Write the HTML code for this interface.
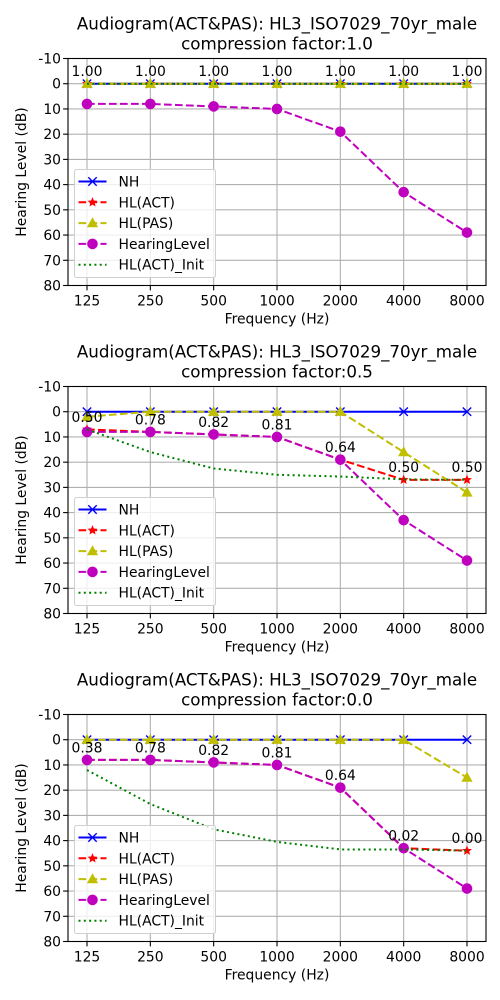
<!DOCTYPE html>
<html><head><meta charset="utf-8"><style>
html,body{margin:0;padding:0;background:#fff;}
svg{display:block;font-family:"DejaVu Sans","Liberation Sans",sans-serif;}
</style></head><body>
<svg id="chart" width="500" height="1000" viewBox="0 0 500 1000"></svg>
<script>
const freqs = ["125","250","500","1000","2000","4000","8000"];
const yTicks = [-10,0,10,20,30,40,50,60,70,80];
const factors = ["1.0","0.5","0.0"];
const nh = [0,0,0,0,0,0,0];
const hearingLevel = [8,8,9,10,19,43,59];
const act1 = [0,0,0,0,0,0,0];
const pas1 = [0,0,0,0,0,0,0];
const init1 = [0,0,0,0,0,0,0];
const lab1 = ["1.00","1.00","1.00","1.00","1.00","1.00","1.00"];
const act2 = [7,8,9,10,19,27,27];
const pas2 = [2,0,0,0,0,16,32];
const init2 = [7,16,22.5,25,25.7,26.8,27];
const lab2 = ["0.50","0.78","0.82","0.81","0.64","0.50","0.50"];
const act3 = [8,8,9,10,19,43,44];
const pas3 = [0,0,0,0,0,0,15];
const init3 = [12,25.5,35.5,40.5,43.5,43.5,44];
const lab3 = ["0.38","0.78","0.82","0.81","0.64","0.02","0.00"];

const svg = document.getElementById('chart');
const NS = 'http://www.w3.org/2000/svg';
function mk(tag, attrs, parent){const e=document.createElementNS(NS,tag);for(const k in attrs)e.setAttribute(k,attrs[k]);(parent||svg).appendChild(e);return e;}

const panels = [
 {top:58.5, act:act1, pas:pas1, init:init1, lab:lab1},
 {top:386.5, act:act2, pas:pas2, init:init2, lab:lab2},
 {top:714.5, act:act3, pas:pas3, init:init3, lab:lab3}
];
const L=68, R=486, H=227, FS=13.9, TFS=16.7;
function xs(i){return L + (i+0.3)/6.6*(R-L);}

panels.forEach((p,pi)=>{
  const g = mk('g',{});
  
  
  const ys = v => p.top + (v+10)/90*H;
  const t1 = mk('text',{x:277,y:p.top-29,'text-anchor':'middle','font-size':TFS,fill:'#000'},g);
  t1.textContent='Audiogram(ACT&PAS): HL3_ISO7029_70yr_male';
  
  
  const t2 = mk('text',{x:277,y:p.top-9,'text-anchor':'middle','font-size':TFS,fill:'#000'},g);
  t2.textContent='compression factor:'+factors[pi];
  
  
  freqs.forEach((f,i)=>{
    mk('line',{x1:xs(i),x2:xs(i),y1:p.top,y2:p.top+H,stroke:'#b0b0b0','stroke-width':1.1},g);
    mk('line',{x1:xs(i),x2:xs(i),y1:p.top+H,y2:p.top+H+4.9,stroke:'#000','stroke-width':1.1},g);
    const tl=mk('text',{x:xs(i),y:p.top+H+20,'text-anchor':'middle','font-size':FS,fill:'#000'},g);
    tl.textContent=f;
    
    
  });
  yTicks.forEach(v=>{
    mk('line',{x1:L,x2:R,y1:ys(v),y2:ys(v),stroke:'#b0b0b0','stroke-width':1.1},g);
    mk('line',{x1:L-4.9,x2:L,y1:ys(v),y2:ys(v),stroke:'#000','stroke-width':1.1},g);
    const tl=mk('text',{x:L-7,y:ys(v)+5,'text-anchor':'end','font-size':FS,fill:'#000'},g);
    tl.textContent=String(v);
    
    
  });
  const xl=mk('text',{x:277,y:p.top+H+38,'text-anchor':'middle','font-size':FS,fill:'#000'},g);
  xl.textContent='Frequency (Hz)';
  
  
  const yl=mk('text',{x:0,y:0,'text-anchor':'middle','font-size':FS,fill:'#000',transform:`translate(26,${p.top+H/2}) rotate(-90)`},g);
  yl.textContent='Hearing Level (dB)';
  
  
  const series=[
    {d:nh,c:'#0000ff',dash:'',m:'x',name:'NH'},
    {d:p.act,c:'#ff0000',dash:'7.7,3.3',m:'star',name:'HL(ACT)'},
    {d:p.pas,c:'#bfbf00',dash:'7.7,3.3',m:'tri',name:'HL(PAS)'},
    {d:hearingLevel,c:'#bf00bf',dash:'7.7,3.3',m:'dot',name:'HearingLevel'},
    {d:p.init,c:'#008000',dash:'2,3.3',m:'',name:'HL(ACT)_Init'}
  ];
  function marker(type,x,y,c,par){
    if(type==='x'){mk('path',{d:`M${x-4.2},${y-4.2}L${x+4.2},${y+4.2}M${x-4.2},${y+4.2}L${x+4.2},${y-4.2}`,stroke:c,'stroke-width':1.4,fill:'none'},par);}
    else if(type==='star'){let pts=[];for(let k=0;k<10;k++){const r=k%2?2.3:5.2,a=-Math.PI/2+k*Math.PI/5;pts.push((x+r*Math.cos(a)).toFixed(2)+','+(y+r*Math.sin(a)).toFixed(2));}mk('polygon',{points:pts.join(' '),fill:c},par);}
    else if(type==='tri'){mk('polygon',{points:`${x},${y-5.8} ${x-5.6},${y+4.2} ${x+5.6},${y+4.2}`,fill:c},par);}
    else if(type==='dot'){mk('circle',{cx:x,cy:y,r:5.3,fill:c},par);}
  }
  series.forEach(s=>{
    const sg=mk('g',{},g);
    
    
    const pts=s.d.map((v,i)=>xs(i)+','+ys(v)).join(' ');
    const a={points:pts,fill:'none',stroke:s.c,'stroke-width':2};
    if(s.dash)a['stroke-dasharray']=s.dash;
    mk('polyline',a,sg);
    if(s.m)s.d.forEach((v,i)=>marker(s.m,xs(i),ys(v),s.c,sg));
  });
  p.lab.forEach((l,i)=>{
    const tl=mk('text',{x:xs(i),y:ys(p.act[i]-5)+5,'text-anchor':'middle','font-size':FS,fill:'#000'},g);
    tl.textContent=l;
    
    
  });
  mk('rect',{x:L,y:p.top,width:R-L,height:H,fill:'none',stroke:'#000','stroke-width':1.1},g);
  const lg=mk('g',{},g);
  
  
  const lx=74.5, ly=p.top+111;
  mk('rect',{x:lx,y:ly,width:141,height:108,fill:'#fff','fill-opacity':0.8,stroke:'#d0d0d0','stroke-width':1,rx:2},lg);
  series.forEach((s,k)=>{
    const yy=ly+12+k*20.8;
    const e=mk('g',{},lg);
    
    
    const a={x1:lx+4,x2:lx+32,y1:yy,y2:yy,stroke:s.c,'stroke-width':2};
    if(s.dash)a['stroke-dasharray']=s.dash;
    mk('line',a,e);
    if(s.m)marker(s.m,lx+18,yy,s.c,e);
    const tt=mk('text',{x:lx+44,y:yy+5,'font-size':FS,fill:'#000'},e);
    tt.textContent=s.name;
  });
});
</script>
</body></html>
